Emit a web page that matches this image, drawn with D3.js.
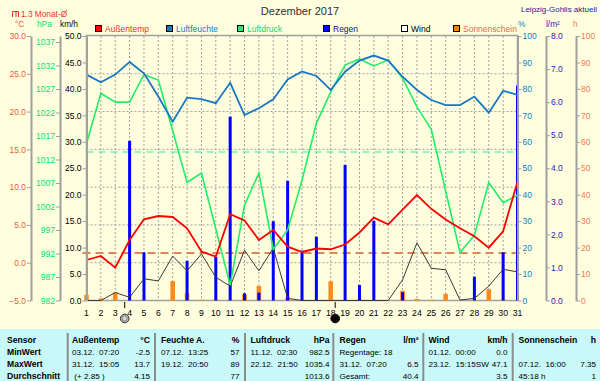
<!DOCTYPE html>
<html>
<head>
<meta charset="utf-8">
<script src="https://cdn.jsdelivr.net/npm/d3@7"></script>
<style>
body { margin: 0; background: #ffffe0; }
svg text { font-family: "Liberation Sans", Arial, sans-serif; }
</style>
</head>
<body>
<script>
var w = 600;
var h = 381;
var svg;

// ---- data (daily values, December 2017) ----
var days = d3.range(1, 32);
var tempValues = [0.36, 0.89, -0.66, 3.01, 5.75, 6.18, 6.05, 4.55, 1.48, 0.80,
                  6.41, 5.59, 3.01, 4.33, 2.12, 1.42, 1.88, 1.78, 2.41, 4.00,
                  5.96, 5.08, 7.02, 8.96, 7.13, 5.71, 4.55, 3.51, 1.99, 4.16, 10.72];
var humValues = [85.4, 82.5, 85.4, 90.2, 85.9, 77.1, 67.6, 76.7, 76.1, 74.6,
                 82.3, 70.1, 72.7, 76.1, 83.6, 86.6, 84.9, 79.6, 86.5, 90.7,
                 92.6, 90.7, 84.6, 79.6, 75.8, 73.9, 73.9, 77.1, 71.0, 79.3, 77.7];
var pressValues = [1015.4, 1026.1, 1024.2, 1024.2, 1030.1, 1028.9, 1018.1, 1007.1, 1009.1, 997.2,
                   985.3, 1002.3, 1009.1, 992.9, 997.0, 1007.6, 1019.7, 1026.4, 1032.1, 1033.4,
                   1031.9, 1033.2, 1029.3, 1023.2, 1018.4, 1005.3, 992.2, 995.9, 1007.1, 1002.8, 1004.4];
var rainValues = [0, 0, 0, 4.83, 1.46, 0, 0, 1.20, 0, 1.32,
                  5.56, 0.22, 0.24, 2.40, 3.62, 1.51, 1.93, 0, 4.10, 0.47,
                  2.41, 0, 0.25, 0, 0, 0, 0, 0.72, 0, 1.46, 6.5];
var windValues = [0, 0, 1.5, 0.6, 4.1, 3.7, 8.4, 5.6, 8.8, 4.4,
                  2.7, 9.5, 5.6, 9.9, 0.4, 0, 0, 0, 0, 0,
                  0, 0, 3.9, 10.9, 6.1, 5.8, 0.1, 0.4, 2.7, 5.9, 5.4];
var sunValues = [2.1, 0.8, 3.1, 0, 0, 0, 7.35, 2.7, 0.3, 0.3,
                 0, 2.3, 5.5, 0, 1.2, 0, 0, 7.3, 0, 0.4,
                 0, 0, 3.7, 0.6, 0.3, 2.5, 0, 0, 4.3, 0.4, 0];
var tempMonthAvg = 1.3;
var pressAvg = 1013.6;
var moonDays = [3.66, 18.31];
var moonTypes = ["full", "new"];

var tempTicks = d3.range(-5, 31, 5);
var pressTicks = d3.range(982, 1038, 5);
var windTicks = d3.range(0, 51, 5);
var humTicks = d3.range(0, 101, 10);
var rainTicks = d3.range(0, 9, 1);
var sunTicks = d3.range(0, 101, 10);

var legendNames = ["Außentemp", "Luftfeuchte", "Luftdruck", "Regen", "Wind", "Sonnenschein"];
var legendColors = ["#ff0000", "#1a78c2", "#22ee66", "#0000ff", "#ffffff", "#ff8000"];
var legendTextColors = ["#e8321e", "#1a78c2", "#10d860", "#1010a0", "#000000", "#e86a4a"];
var legendX = [95, 166, 237, 323, 401, 453];

var tabHeader = ["Sensor", "Außentemp", "°C", "Feuchte A.", "%", "Luftdruck", "hPa", "Regen", "l/m²", "Wind", "km/h", "Sonnenschein", "h"];
var tabMin = ["MinWert", "03.12.  07:20", "-2.5", "07.12.  13:25", "57", "11.12.  02:30", "982.5", "Regentage: 18", "", "01.12.  00:00", "0.0", "", ""];
var tabMax = ["MaxWert", "31.12.  15:05", "13.7", "19.12.  20:50", "89", "22.12.  21:50", "1035.4", "31.12.  07:20", "6.5", "23.12.  15:15SW", "47.1", "07.12.  16:00", "7.35"];
var tabAvg = ["Durchschnitt", " (+ 2.85 )", "4.15", "", "77", "", "1013.6", "Gesamt:", "40.4", "", "3.5", "45:18 h", "1"];
var tabColX = [7, 72, 150, 161, 239.5, 250.5, 329.5, 339.5, 418.5, 428.5, 507.5, 518.5, 596];
var tabSep = [67.7, 155, 245, 333.3, 423.3, 512.7];

// ---- geometry ----
var plotTop = 36, plotBottom = 300.5, plotLeft = 86.5, plotRight = 517.5;

var x = d3.scaleLinear().domain([1, 31]).range([plotLeft, plotRight]);
var yTemp = d3.scaleLinear().domain([-5, 30]).range([plotBottom, plotTop]);
var yPress = d3.scaleLinear().domain([982, 982 + (plotBottom - plotTop) / 4.7]).range([plotBottom, plotTop]);
var yWind = d3.scaleLinear().domain([0, 50]).range([plotBottom, plotTop]);
var yHum = d3.scaleLinear().domain([0, 100]).range([plotBottom, plotTop]);
var yRain = d3.scaleLinear().domain([0, 8]).range([plotBottom, plotTop]);
var ySun = d3.scaleLinear().domain([0, 100]).range([plotBottom, plotTop]);

drawChart();

function drawAxis(scale, orient, xPos, ticks, fmt, color) {
    var ax = (orient == "left" ? d3.axisLeft(scale) : d3.axisRight(scale))
        .tickValues(ticks)
        .tickFormat(fmt)
        .tickSize(4)
        .tickSizeOuter(0)
        .tickPadding(1);
    var g = svg.append("g")
        .attr("transform", "translate(" + xPos + ",0)")
        .call(ax);
    g.select(".domain").attr("stroke", "#a0a0a0").attr("stroke-width", 2);
    g.selectAll(".tick line").attr("stroke", "#a0a0a0");
    g.selectAll(".tick text")
        .attr("fill", color)
        .attr("font-size", 8.5)
        .attr("font-family", "Liberation Sans, Arial, sans-serif");
}

function drawChart() {
    svg = d3.select("body")
        .append("svg")
        .attr("width", w)
        .attr("height", h);

    svg.append("rect")
        .attr("x", 0).attr("y", 0)
        .attr("width", w).attr("height", h)
        .attr("fill", "#ffffe0");

    //---- grid ----
    svg.append("g").selectAll("line")
        .data(days.slice(1, 30))
        .join("line")
        .attr("x1", d => x(d)).attr("x2", d => x(d))
        .attr("y1", plotTop).attr("y2", plotBottom)
        .attr("stroke", "#a0a0a0")
        .attr("stroke-dasharray", "2,2");

    svg.append("g").selectAll("line")
        .data(tempTicks.slice(1, 7))
        .join("line")
        .attr("x1", plotLeft).attr("x2", plotRight)
        .attr("y1", d => yTemp(d)).attr("y2", d => yTemp(d))
        .attr("stroke", "#a0a0a0")
        .attr("stroke-dasharray", "2,2");

    //---- frame ----
    svg.append("rect")
        .attr("x", plotLeft).attr("y", plotTop - 0.5)
        .attr("width", plotRight - plotLeft).attr("height", plotBottom - plotTop + 0.5)
        .attr("fill", "none")
        .attr("stroke", "#a0a0a0")
        .attr("stroke-width", 1.5);

    //---- average lines ----
    svg.append("line")
        .attr("x1", plotLeft).attr("x2", plotRight)
        .attr("y1", yPress(pressAvg)).attr("y2", yPress(pressAvg))
        .attr("stroke", "#33f0a0")
        .attr("stroke-width", 1.2)
        .attr("stroke-dasharray", "7,5");

    svg.append("line")
        .attr("x1", plotLeft - 4).attr("x2", plotRight + 8)
        .attr("y1", yTemp(tempMonthAvg)).attr("y2", yTemp(tempMonthAvg))
        .attr("stroke", "#e0845a")
        .attr("stroke-width", 2)
        .attr("stroke-dasharray", "8,5");

    //---- sunshine bars ----
    svg.append("g").selectAll("rect")
        .data(days.filter((d, i) => sunValues[i] > 0))
        .join("rect")
        .attr("x", d => x(d) - 2.3)
        .attr("y", d => ySun(sunValues[d - 1]))
        .attr("width", 4.6)
        .attr("height", d => plotBottom - ySun(sunValues[d - 1]))
        .attr("fill", "#ff8c1a");

    //---- rain bars ----
    svg.append("g").selectAll("rect")
        .data(days.filter((d, i) => rainValues[i] > 0))
        .join("rect")
        .attr("x", d => x(d) - 1.5)
        .attr("y", d => yRain(rainValues[d - 1]))
        .attr("width", 3)
        .attr("height", d => plotBottom - yRain(rainValues[d - 1]))
        .attr("fill", "#0000ff");

    //---- lines ----
    svg.append("path")
        .datum(windValues)
        .attr("fill", "none")
        .attr("stroke", "#3a3a3a")
        .attr("stroke-width", 1)
        .attr("d", d3.line().x((d, i) => x(days[i])).y(d => yWind(d)));

    svg.append("path")
        .datum(pressValues)
        .attr("fill", "none")
        .attr("stroke", "#22ee66")
        .attr("stroke-width", 1.6)
        .attr("d", d3.line().x((d, i) => x(days[i])).y(d => yPress(d)));

    svg.append("path")
        .datum(humValues)
        .attr("fill", "none")
        .attr("stroke", "#1a78c2")
        .attr("stroke-width", 1.8)
        .attr("d", d3.line().x((d, i) => x(days[i])).y(d => yHum(d)));

    svg.append("path")
        .datum(tempValues)
        .attr("fill", "none")
        .attr("stroke", "#ff0000")
        .attr("stroke-width", 1.8)
        .attr("d", d3.line().x((d, i) => x(days[i])).y(d => yTemp(d)));

    //---- axes ----
    drawAxis(yTemp, "left", 31, tempTicks, d3.format(".1f"), "#f05a3c");
    drawAxis(yPress, "left", 60, pressTicks, d3.format("d"), "#00e070");
    drawAxis(yWind, "left", plotLeft, windTicks, d3.format(".1f"), "#000000");
    drawAxis(yHum, "right", plotRight, humTicks, d3.format("d"), "#0a80c0");
    drawAxis(yRain, "right", 546, rainTicks, d3.format(".1f"), "#2424c0");
    drawAxis(ySun, "right", 576, sunTicks, d3.format("d"), "#f07a5a");

    //---- x labels ----
    svg.append("g").selectAll("text")
        .data(days)
        .join("text")
        .text(d => d)
        .attr("x", d => x(d))
        .attr("y", 316)
        .attr("text-anchor", "middle")
        .attr("font-size", 8.7)
        .attr("fill", "#000");

    //---- moon phases ----
    moonDays.forEach(function (md, i) {
        svg.append("line")
            .attr("x1", x(md)).attr("x2", x(md))
            .attr("y1", 302).attr("y2", 308)
            .attr("stroke", "#000");
        svg.append("circle")
            .attr("cx", x(md)).attr("cy", 318.5).attr("r", 4.3)
            .attr("fill", moonTypes[i] == "full" ? "#b8b8b8" : "#000")
            .attr("stroke", moonTypes[i] == "full" ? "#303030" : "#000")
            .attr("stroke-width", 1);
        if (moonTypes[i] == "full") {
            svg.append("circle")
                .attr("cx", x(md)).attr("cy", 318.5).attr("r", 2.5)
                .attr("fill", "#d8d8d8")
                .attr("stroke", "#888");
        }
    });

    //---- title and labels ----
    svg.append("text")
        .text("Dezember 2017")
        .attr("x", 300).attr("y", 15)
        .attr("text-anchor", "middle")
        .attr("font-size", 11)
        .attr("fill", "#303030");

    svg.append("text")
        .text("Leipzig-Gohlis aktuell")
        .attr("x", 597).attr("y", 12)
        .attr("text-anchor", "end")
        .attr("font-size", 8)
        .attr("fill", "#1a1aa0");

    svg.append("path")
        .attr("d", "M12.5,17 V11.5 H18.5 V17 M16,11.5 V17")
        .attr("fill", "none")
        .attr("stroke", "#e8321e")
        .attr("stroke-width", 1);
    svg.append("text")
        .text(tempMonthAvg + " Monat-Ø")
        .attr("x", 21).attr("y", 17)
        .attr("font-size", 8.3)
        .attr("fill", "#e8321e");

    var units = [["°C", 15, "#f05a3c"], ["hPa", 37, "#00e070"], ["km/h", 60, "#000"],
                 ["%", 518, "#0a80c0"], ["l/m²", 546, "#2424c0"], ["h", 573, "#f07a5a"]];
    units.forEach(function (u) {
        svg.append("text")
            .text(u[0])
            .attr("x", u[1]).attr("y", 27)
            .attr("font-size", 8.3)
            .attr("fill", u[2]);
    });

    //---- legend ----
    legendNames.forEach(function (n, i) {
        svg.append("rect")
            .attr("x", legendX[i] + 0.5).attr("y", 25.5)
            .attr("width", 6).attr("height", 6)
            .attr("fill", legendColors[i])
            .attr("stroke", "#000");
        svg.append("text")
            .text(n)
            .attr("x", legendX[i] + 10).attr("y", 32)
            .attr("font-size", 8.5)
            .attr("fill", legendTextColors[i]);
    });

    //---- table ----
    svg.append("rect")
        .attr("x", 0).attr("y", 329)
        .attr("width", w).attr("height", h - 329)
        .attr("fill", "#c8f8f8");

    svg.append("g").selectAll("line")
        .data(tabSep)
        .join("line")
        .attr("x1", d => d).attr("x2", d => d)
        .attr("y1", 333).attr("y2", h)
        .attr("stroke", "#8c8c8c")
        .attr("stroke-width", 2);

    var rows = [tabHeader, tabMin, tabMax, tabAvg];
    var rowY = [343, 355, 367, 379];
    rows.forEach(function (r, ri) {
        r.forEach(function (t, ci) {
            if (t === "") return;
            var anchor = (ci > 0 && ci % 2 == 0) ? "end" : "start";
            var bold = (ri == 0 || ci == 0);
            svg.append("text")
                .text(t)
                .attr("x", tabColX[ci]).attr("y", rowY[ri])
                .attr("text-anchor", anchor)
                .attr("font-size", bold ? 8.6 : 8.1)
                .attr("font-weight", bold ? "bold" : "normal")
                .attr("fill", "#000")
                .style("white-space", "pre");
        });
    });
}
</script>
</body>
</html>
